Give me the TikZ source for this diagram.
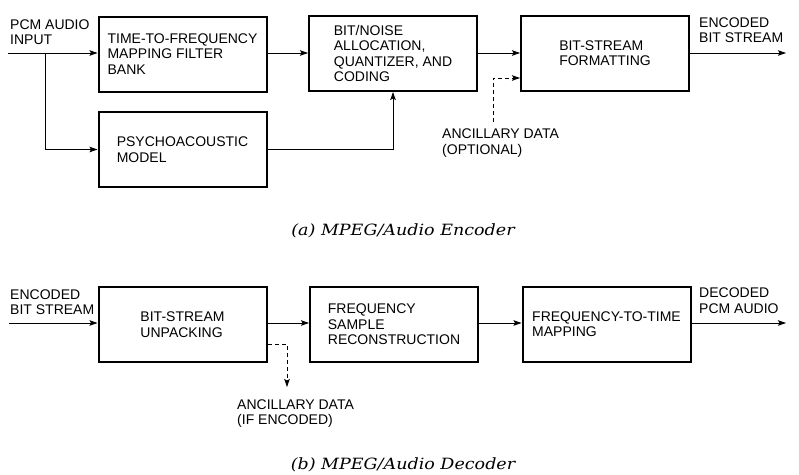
\documentclass[tikz,border=0pt]{standalone}
\usepackage{fontspec}
\setmainfont{Liberation Sans}
\newfontfamily\capfont{DejaVu Serif}
\usetikzlibrary{arrows.meta}

\begin{document}
\begin{tikzpicture}[x=1pt, y=-1pt,
                block_style/.style={draw=black, line width=2pt, minimum width=168pt, minimum height=75pt,
                                    align=left, inner sep=0pt, font=\fontsize{14}{15.5}\selectfont},
                label_style/.style={anchor=west, align=left, inner sep=0pt, font=\fontsize{14}{15.5}\selectfont},
                line_style/.style={draw=black, line width=0.8pt, -{Stealth[length=8pt, width=5.5pt, inset=1.5pt]}},
                dash_style/.style={line_style, dash pattern=on 4pt off 3pt},
                caption_style/.style={inner sep=0pt, xscale=1.13, transform shape,
                                      font=\capfont\itshape\fontsize{15.5}{17}\selectfont}]
                \useasboundingbox (0,0) rectangle (799,474);
                % encoder
                \node[block_style] (tf) at (182.5, 54) {TIME-TO-FREQUENCY\\MAPPING FILTER\\BANK};
                \node[block_style] (psy) at (182.5, 149.5) {PSYCHOACOUSTIC\\MODEL};
                \node[block_style] (bna) at (393, 53.5) {BIT/NOISE\\ALLOCATION,\\QUANTIZER, AND\\CODING};
                \node[block_style] (fmt) at (605, 53) {BIT-STREAM\\FORMATTING};
                \node[label_style] (inlbl) at (10, 32) {PCM AUDIO\\INPUT};
                \node[label_style] (enclbl) at (699, 30) {ENCODED\\BIT STREAM};
                \node[label_style] (anc1) at (442, 143) {ANCILLARY DATA\\(OPTIONAL)};
                \coordinate (in) at (8, 53);
                \coordinate (br) at (45, 53);
                \coordinate (out) at (786, 53);
                \coordinate (a1) at (493, 122);
                \draw[line_style] (in) -- (in -| tf.west);
                \draw[line_style] (br) |- (psy.west);
                \draw[line_style] (tf.east |- in) -- (bna.west |- in);
                \draw[line_style] (psy.east) -| (bna.south);
                \draw[line_style] (bna.east |- in) -- (fmt.west |- in);
                \draw[dash_style] (a1) |- ([yshift=-25pt]fmt.west);
                \draw[line_style] (fmt.east |- out) -- (out);
                \node[caption_style] (capa) at (403, 231) {(a) MPEG/Audio Encoder};
                % decoder
                \node[block_style] (unp) at (182.5, 324.5) {BIT-STREAM\\UNPACKING};
                \node[block_style] (rec) at (394, 324.5) {FREQUENCY\\SAMPLE\\RECONSTRUCTION};
                \node[block_style] (ftm) at (606.5, 324) {FREQUENCY-TO-TIME\\MAPPING};
                \node[label_style] (inlbl2) at (10, 302) {ENCODED\\BIT STREAM};
                \node[label_style] (declbl) at (699, 300.5) {DECODED\\PCM AUDIO};
                \node[label_style] (anc2) at (237, 413.5) {ANCILLARY DATA\\(IF ENCODED)};
                \coordinate (in2) at (9, 323);
                \coordinate (out2) at (786, 323);
                \coordinate (a2) at (287, 387);
                \draw[line_style] (in2) -- (in2 -| unp.west);
                \draw[line_style] (unp.east |- in2) -- (rec.west |- in2);
                \draw[line_style] (rec.east |- in2) -- (ftm.west |- in2);
                \draw[line_style] (ftm.east |- out2) -- (out2);
                \draw[dash_style] ([yshift=-20pt]unp.east) -| (a2);
                \node[caption_style] (capb) at (403, 465) {(b) MPEG/Audio Decoder};
            \end{tikzpicture}
\end{document}
